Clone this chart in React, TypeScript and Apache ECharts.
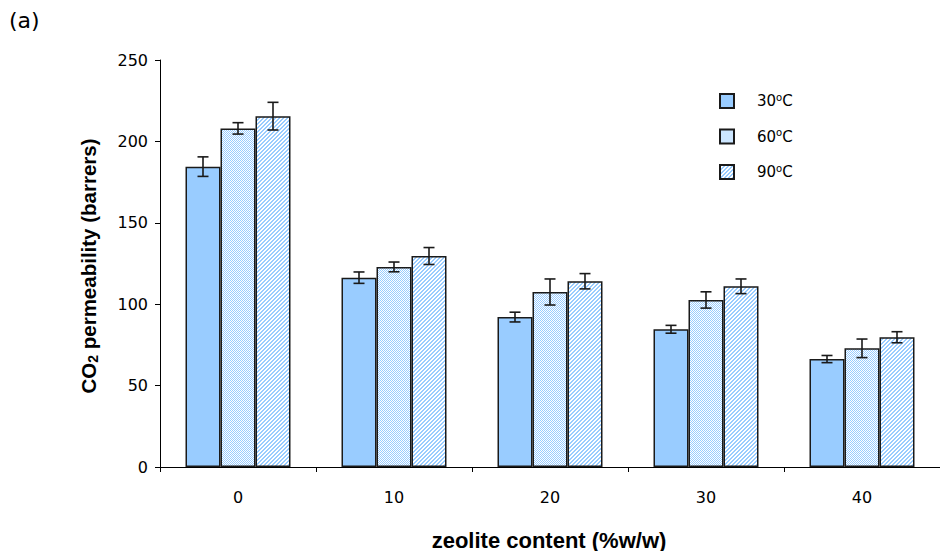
import React, { useEffect, useRef } from 'react';
import * as echarts from 'echarts';

// Zeolite loading (%w/w) on the category axis
const categories = ['0', '10', '20', '30', '40'];
// Legend / series names (temperature)
const seriesNames = ['30°C', '60°C', '90°C'];
// CO2 permeability (barrers) at each temperature
const perm30 = [184.5, 116.3, 92.1, 84.6, 66.3];
const perm60 = [208.0, 122.9, 107.5, 102.6, 72.9];
const perm90 = [215.5, 129.6, 114.1, 111.0, 79.7];
// Standard deviations shown as error bars
const err30 = [6.0, 3.5, 3.0, 2.4, 2.2];
const err60 = [3.5, 3.0, 8.0, 5.0, 5.7];
const err90 = [8.5, 5.2, 4.7, 4.5, 3.4];

const BLUE = '#99ccff';
const EDGE = '#1a1a1a';
const BAR_W = 35;
const FONT = 'DejaVu Sans';
const TITLE_FONT = 'Liberation Sans';

function makePattern(kind: 'check' | 'diag') {
  const c = document.createElement('canvas');
  c.width = 4;
  c.height = 4;
  const ctx = c.getContext('2d')!;
  ctx.fillStyle = '#ffffff';
  ctx.fillRect(0, 0, 4, 4);
  ctx.fillStyle = BLUE;
  for (let y = 0; y < 4; y++) {
    for (let x = 0; x < 4; x++) {
      const on = kind === 'check' ? (x + y) % 2 === 0 : (x + y) % 4 < 2;
      if (on) ctx.fillRect(x, y, 1, 1);
    }
  }
  return { image: c, repeat: 'repeat' } as any;
}

export default function App() {
  const ref = useRef<HTMLDivElement>(null);

  useEffect(() => {
    if (!ref.current) return;
    const chart = echarts.init(ref.current, null, { renderer: 'svg' });

    const values = [perm30, perm60, perm90];
    const errors = [err30, err60, err90];
    const fills = [BLUE, makePattern('check'), makePattern('diag')];

    const barSeries = seriesNames.map((name, i) => ({
      name,
      type: 'bar',
      data: values[i],
      barWidth: BAR_W,
      barGap: '0%',
      itemStyle: { color: fills[i], borderColor: EDGE, borderWidth: 1.5 },
      z: 2,
    }));

    const errorSeries = values.map((vals, si) => ({
      type: 'custom',
      name: 'err' + si,
      z: 5,
      data: vals.map((v, ci) => [ci, v, errors[si][ci]]),
      encode: { x: 0, y: 1 },
      renderItem: (params: any, api: any) => {
        const ci = api.value(0);
        const v = api.value(1);
        const e = api.value(2);
        const top = api.coord([ci, v + e]);
        const bot = api.coord([ci, v - e]);
        const x = top[0] + (si - 1) * BAR_W;
        const cap = 5.5;
        const st = { stroke: EDGE, lineWidth: 1.6 };
        return {
          type: 'group',
          children: [
            { type: 'line', shape: { x1: x, y1: top[1], x2: x, y2: bot[1] }, style: st },
            { type: 'line', shape: { x1: x - cap, y1: top[1], x2: x + cap, y2: top[1] }, style: st },
            { type: 'line', shape: { x1: x - cap, y1: bot[1], x2: x + cap, y2: bot[1] }, style: st },
          ],
        };
      },
    }));

    chart.setOption({
      animation: false,
      backgroundColor: '#ffffff',
      grid: { left: 160, right: -7, top: 60, bottom: 84, containLabel: false },
      legend: {
        data: seriesNames,
        orient: 'vertical',
        left: 714,
        top: 87,
        itemWidth: 14,
        itemHeight: 14,
        itemGap: 17.5,
        icon: 'rect',
        formatter: (name: string) => name.replace('°', '{s|o}'),
        textStyle: {
          fontFamily: FONT,
          fontSize: 15,
          color: '#000',
          lineHeight: 18,
          padding: [0, 0, 0, 18],
          rich: {
            s: { fontFamily: FONT, fontSize: 10, lineHeight: 10, verticalAlign: 'top', color: '#000' },
          },
        },
      },
      xAxis: {
        type: 'category',
        data: categories,
        axisLine: { lineStyle: { color: '#000', width: 1 } },
        axisTick: { show: true, length: 5, lineStyle: { color: '#000' } },
        axisLabel: { fontFamily: FONT, fontSize: 16, color: '#000', margin: 22 },
      },
      yAxis: {
        type: 'value',
        min: 0,
        max: 250,
        interval: 50,
        splitLine: { show: false },
        axisLine: { show: true, lineStyle: { color: '#000', width: 1 } },
        axisTick: { show: true, length: 5, lineStyle: { color: '#000' } },
        axisLabel: { fontFamily: FONT, fontSize: 16, color: '#000', margin: 12 },
      },
      graphic: [
        {
          type: 'text',
          left: 9,
          top: 9,
          style: { text: '(a)', fontFamily: FONT, fontSize: 22, fill: '#000' },
        },
        {
          type: 'text',
          x: 88,
          y: 266,
          rotation: Math.PI / 2,
          style: {
            text: 'CO{sub|2} permeability (barrers)',
            fontFamily: TITLE_FONT,
            fontWeight: 'bold',
            fontSize: 20.5,
            lineHeight: 24,
            fill: '#000',
            align: 'center',
            verticalAlign: 'middle',
            rich: {
              sub: {
                fontFamily: TITLE_FONT,
                fontWeight: 'bold',
                fontSize: 14,
                lineHeight: 14,
                verticalAlign: 'bottom',
                fill: '#000',
              },
            },
          },
        },
        {
          type: 'text',
          x: 549,
          y: 540,
          style: {
            text: 'zeolite content (%w/w)',
            fontFamily: TITLE_FONT,
            fontWeight: 'bold',
            fontSize: 22,
            fill: '#000',
            align: 'center',
            verticalAlign: 'middle',
          },
        },
      ],
      series: [...barSeries, ...errorSeries],
    } as any);

    return () => chart.dispose();
  }, []);

  return (
    <div
      ref={ref}
      style={{ position: 'fixed', left: 0, top: 0, width: 940, height: 551, background: '#fff' }}
    />
  );
}
